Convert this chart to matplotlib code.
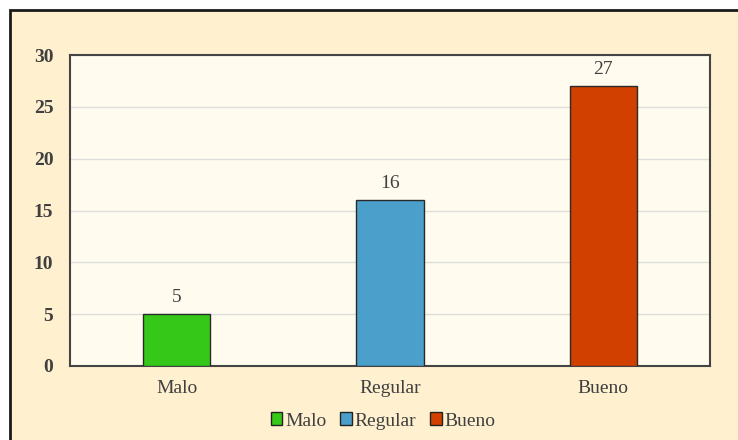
import matplotlib.pyplot as plt
from matplotlib.patches import Rectangle, Patch

categorias = ["Malo", "Regular", "Bueno"]
valores = [5, 16, 27]
colores = ["#36C819", "#4A9FCB", "#D24000"]

plt.rcParams['font.family'] = ['Liberation Serif', 'DejaVu Serif']

fig = plt.figure(figsize=(7.38, 4.40), dpi=100, facecolor="white")
# outer frame of the chart area
fig.patches.append(Rectangle((10 / 738, -0.1), 1.2, 1 - 10 / 440 + 0.1,
                             transform=fig.transFigure, facecolor="#FFF0CF",
                             edgecolor="#1a1a1a", linewidth=2.0, zorder=-5))

ax = fig.add_axes([70 / 738, 1 - 366 / 440, 640 / 738, 311 / 440])
ax.set_facecolor("#FFFBEE")

x = range(len(categorias))
bars = ax.bar(x, valores, width=0.315, color=colores, edgecolor="#2a2a2a",
              linewidth=1.0, zorder=3)
for b, v in zip(bars, valores):
    ax.text(b.get_x() + b.get_width() / 2, v + 0.8, str(v), ha="center",
            va="bottom", fontsize=14, color="#404040")

ax.set_xlim(-0.5, 2.5)
ax.set_ylim(0, 30)
ax.set_yticks(range(0, 31, 5))
ax.set_xticks(list(x))
ax.set_xticklabels(categorias, fontsize=14, color="#404040")
for lbl in ax.get_yticklabels():
    lbl.set_fontweight("bold")
    lbl.set_fontsize(14)
    lbl.set_color("#404040")
ax.tick_params(length=0, pad=12)
ax.tick_params(axis="x", pad=10)
ax.yaxis.grid(True, color="#DDDDDD", linewidth=1.0, zorder=0)
ax.set_axisbelow(True)
for s in ax.spines.values():
    s.set_color("#444444")
    s.set_linewidth(1.5)

handles = [Patch(facecolor=c, edgecolor="#222222", label=l)
           for c, l in zip(colores, categorias)]
leg = fig.legend(handles=handles, loc="center", bbox_to_anchor=(383 / 738, 1 - 421 / 440),
                 ncol=3, frameon=False, fontsize=14, handlelength=0.6, handleheight=0.6,
                 handletextpad=0.15, columnspacing=0.7)
for t in leg.get_texts():
    t.set_color("#404040")

fig.savefig("out.png", dpi=100, facecolor=fig.get_facecolor())
